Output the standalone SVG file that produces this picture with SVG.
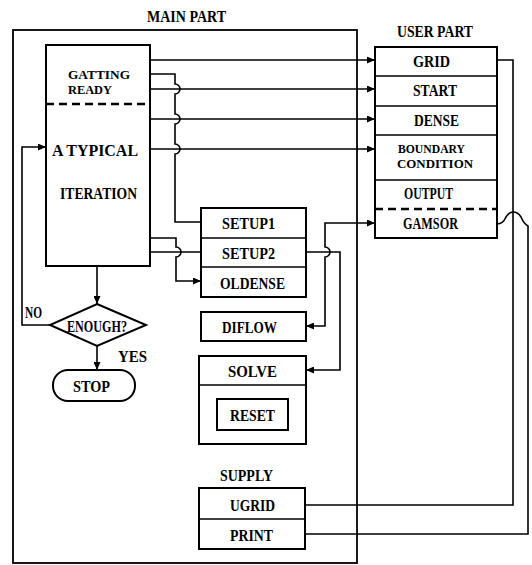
<svg xmlns="http://www.w3.org/2000/svg" width="532" height="565" viewBox="0 0 532 565">
<style>
  .box { fill: none; stroke: #000; stroke-width: 2; }
  .frame { fill: none; stroke: #000; stroke-width: 1.8; }
  .div { stroke: #000; stroke-width: 1.5; }
  .dash { stroke: #000; stroke-width: 2.5; stroke-dasharray: 8 5; }
  .con { fill: none; stroke: #000; stroke-width: 1.6; }
  text { font-family: "Liberation Serif", "DejaVu Serif", serif; font-weight: bold; font-size: 16px; fill: #000; }
  text.tight { font-size: 13px; }
</style>
<defs>
  <marker id="arr" markerUnits="userSpaceOnUse" markerWidth="8" markerHeight="7" refX="8" refY="3.5" orient="auto-start-reverse">
    <path d="M0,0 L8,3.5 L0,7 z" fill="#000"/>
  </marker>
</defs>

<g id="main-part">
  <rect class="frame" x="13" y="30" width="344" height="533"/>
  <text x="147" y="22" textLength="79" lengthAdjust="spacingAndGlyphs">MAIN PART</text>
</g>

<g id="iteration-box">
  <rect class="box" x="46" y="45" width="104" height="221"/>
  <line class="dash" x1="46" y1="104" x2="150" y2="104"/>
  <text class="tight" x="68" y="79" textLength="62" lengthAdjust="spacingAndGlyphs">GATTING</text>
  <text class="tight" x="68" y="94" textLength="44" lengthAdjust="spacingAndGlyphs">READY</text>
  <text x="52" y="156" textLength="86" lengthAdjust="spacingAndGlyphs">A TYPICAL</text>
  <text x="60" y="199" textLength="77" lengthAdjust="spacingAndGlyphs">ITERATION</text>
</g>

<g id="enough">
  <polygon class="box" points="97,304 146,325 97,346 50,325"/>
  <text x="67" y="332" textLength="60" lengthAdjust="spacingAndGlyphs">ENOUGH?</text>
</g>

<g id="stop">
  <rect class="box" x="53" y="370" width="82" height="31" rx="15" ry="15"/>
  <text x="73" y="392" textLength="37" lengthAdjust="spacingAndGlyphs">STOP</text>
</g>

<g id="setup-group">
  <rect class="box" x="201" y="208" width="105" height="89"/>
  <line class="div" x1="201" y1="238" x2="306" y2="238"/>
  <line class="div" x1="201" y1="267" x2="306" y2="267"/>
  <text x="222" y="229" textLength="53" lengthAdjust="spacingAndGlyphs">SETUP1</text>
  <text x="222" y="259" textLength="53" lengthAdjust="spacingAndGlyphs">SETUP2</text>
  <text x="220" y="289" textLength="65" lengthAdjust="spacingAndGlyphs">OLDENSE</text>
</g>

<g id="diflow">
  <rect class="box" x="201" y="312" width="105" height="29"/>
  <text x="222" y="333" textLength="55" lengthAdjust="spacingAndGlyphs">DIFLOW</text>
</g>

<g id="solve">
  <rect class="box" x="199" y="356" width="107" height="88"/>
  <line class="div" x1="199" y1="385" x2="306" y2="385"/>
  <text x="228" y="377" textLength="49" lengthAdjust="spacingAndGlyphs">SOLVE</text>
  <g id="reset">
    <rect class="box" x="217" y="399" width="71" height="31"/>
    <text x="230" y="421" textLength="45" lengthAdjust="spacingAndGlyphs">RESET</text>
  </g>
</g>

<g id="supply">
  <text x="220" y="481" textLength="53" lengthAdjust="spacingAndGlyphs">SUPPLY</text>
  <rect class="box" x="199" y="488" width="106" height="61"/>
  <line class="div" x1="199" y1="519" x2="305" y2="519"/>
  <text x="230" y="511" textLength="45" lengthAdjust="spacingAndGlyphs">UGRID</text>
  <text x="230" y="541" textLength="43" lengthAdjust="spacingAndGlyphs">PRINT</text>
</g>

<g id="user-part">
  <text x="397" y="37" textLength="76" lengthAdjust="spacingAndGlyphs">USER PART</text>
  <rect class="box" x="375" y="47" width="122" height="191"/>
  <line class="div" x1="375" y1="76" x2="497" y2="76"/>
  <line class="div" x1="375" y1="106" x2="497" y2="106"/>
  <line class="div" x1="375" y1="135" x2="497" y2="135"/>
  <line class="div" x1="375" y1="180" x2="497" y2="180"/>
  <line class="dash" x1="375" y1="209" x2="497" y2="209"/>
  <text x="413" y="67" textLength="37" lengthAdjust="spacingAndGlyphs">GRID</text>
  <text x="413" y="96" textLength="44" lengthAdjust="spacingAndGlyphs">START</text>
  <text x="414" y="126" textLength="45" lengthAdjust="spacingAndGlyphs">DENSE</text>
  <text class="tight" x="398" y="153" textLength="67" lengthAdjust="spacingAndGlyphs">BOUNDARY</text>
  <text class="tight" x="397" y="168" textLength="76" lengthAdjust="spacingAndGlyphs">CONDITION</text>
  <text x="404" y="199" textLength="49" lengthAdjust="spacingAndGlyphs">OUTPUT</text>
  <text x="403" y="229" textLength="55" lengthAdjust="spacingAndGlyphs">GAMSOR</text>
</g>

<g id="connectors">
  <path class="con" d="M150,60 H375" marker-end="url(#arr)"/>
  <path class="con" d="M150,89 H375" marker-end="url(#arr)"/>
  <path class="con" d="M150,119 H375" marker-end="url(#arr)"/>
  <path class="con" d="M150,149 H375" marker-end="url(#arr)"/>
  <path class="con" d="M150,74 H175 V84 a5,5 0 0 1 0,10 V114 a5,5 0 0 1 0,10 V144 a5,5 0 0 1 0,10 V222 H201"/>
  <path class="con" d="M150,238 H176 V247 a5,5 0 0 1 0,10 V281 H201" marker-end="url(#arr)"/>
  <path class="con" d="M150,252 H201"/>
  <path class="con" d="M306,326 H325 V257 a5,5 0 0 0 0,-10 V223 H375" marker-start="url(#arr)" marker-end="url(#arr)"/>
  <path class="con" d="M306,252 H340 V370 H306" marker-end="url(#arr)"/>
  <path class="con" d="M497,60 H513 V505 H305"/>
  <path class="con" d="M497,224 Q503,224 506,217 Q509,212 513,212 Q518,212 521,217 Q524,224 528,226 V534 H305"/>
  <path class="con" d="M97,266 V304" marker-end="url(#arr)"/>
  <path class="con" d="M97,346 V370" marker-end="url(#arr)"/>
  <path class="con" d="M50,325 H22 V147 H46" marker-end="url(#arr)"/>
  <text x="25" y="318" textLength="17" lengthAdjust="spacingAndGlyphs">NO</text>
  <text x="118" y="362" textLength="29" lengthAdjust="spacingAndGlyphs">YES</text>
</g>
</svg>
